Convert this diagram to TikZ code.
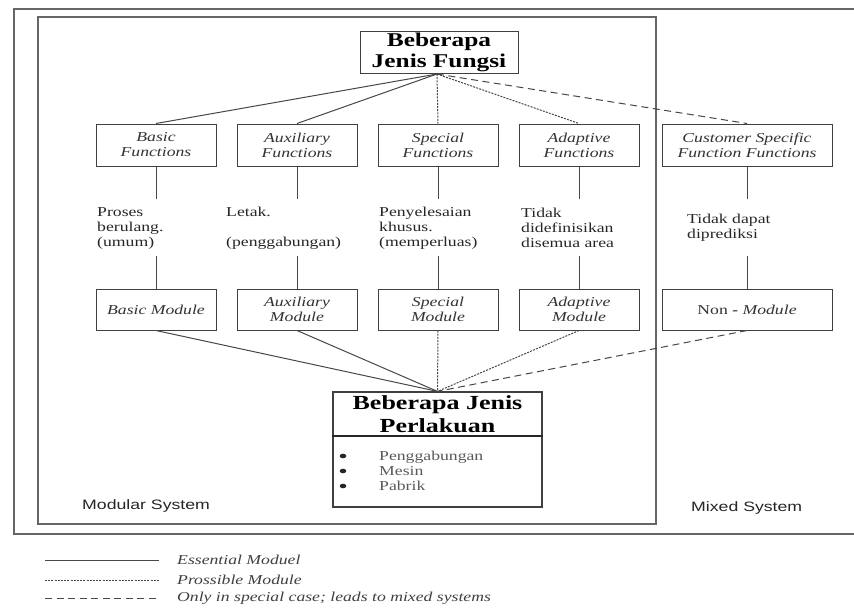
\documentclass[tikz,border=0pt]{standalone}
\usepackage{fontspec}
\setmainfont{Liberation Serif}[FakeStretch=1.3]
\newfontfamily\sansf{Liberation Sans}[FakeStretch=1.3]
\begin{document}
\begin{tikzpicture}[x=1pt,y=-1pt,
  box/.style={draw=black!75,line width=1pt,inner sep=0pt,align=center,minimum height=42pt,minimum width=120pt,font=\fontsize{13.6}{15}\selectfont\itshape,text=black!80},
  lbl/.style={anchor=west,inner sep=0pt,align=left,font=\fontsize{13.6}{15}\selectfont,text=black!85},
  essl/.style={draw=black!72,line width=1pt},
  possl/.style={draw=black!72,line width=1pt,dash pattern=on 2pt off 1.2pt},
  spcl/.style={draw=black!72,line width=1pt,dash pattern=on 7pt off 4.5pt},
  frame/.style={draw=black!60,line width=1.3pt},
  sysl/.style={anchor=west,inner sep=0pt,font=\sansf\fontsize{13.6}{15}\selectfont,text=black!85},
  legl/.style={anchor=west,inner sep=0pt,font=\fontsize{13.6}{15}\selectfont\itshape,text=black!75}
]
\useasboundingbox (0,0) rectangle (854,608);
\fill[white] (0,0) rectangle (854,608);

% frames
\draw[frame] (854,9) -- (14,9) -- (14,534) -- (854,534);
\draw[frame] (38,17) rectangle (656,524);

% top box
\node[box, minimum width=158pt, font=\fontsize{19.5}{21}\selectfont\bfseries, text=black] (top) at (439,52) {Beberapa\\Jenis Fungsi};

% function boxes
\node[box] (bf) at (156,145) {Basic\\Functions};
\node[box] (af) at (297,145) {Auxiliary\\Functions};
\node[box] (sf) at (438,145) {Special\\Functions};
\node[box] (df) at (579,145) {Adaptive\\Functions};
\node[box, minimum width=170pt] (cf) at (747,145) {Customer Specific\\Function Functions};

% module boxes
\node[box, minimum height=41pt] (bm) at (156,309.5) {Basic Module};
\node[box, minimum height=41pt] (am) at (297,309.5) {Auxiliary\\Module};
\node[box, minimum height=41pt] (sm) at (438,309.5) {Special\\Module};
\node[box, minimum height=41pt] (dm) at (579,309.5) {Adaptive\\Module};
\node[box, minimum height=41pt, minimum width=170pt] (nm) at (747,309.5) {{\upshape Non} \textbf{-} Module};

% middle labels
\node[lbl] (bt) at (97,228) {Proses\\berulang.\\(umum)};
\node[lbl] (at) at (226,228) {Letak.\\[15pt](penggabungan)};
\node[lbl] (st) at (379,228) {Penyelesaian\\khusus.\\(memperluas)};
\node[lbl] (dt) at (521,228) {Tidak\\didefinisikan\\disemua area};
\node[lbl] (ct) at (687,228) {Tidak dapat\\diprediksi};

% stub coordinates
\foreach \n/\x in {b/156,a/297,s/438,d/579,c/747}{
  \coordinate (\n1) at (\x,199);
  \coordinate (\n2) at (\x,256);
}
\draw[essl] (bf.south) -- (b1); \draw[essl] (b2) -- (bm.north);
\draw[essl] (af.south) -- (a1); \draw[essl] (a2) -- (am.north);
\draw[essl] (sf.south) -- (s1); \draw[essl] (s2) -- (sm.north);
\draw[essl] (df.south) -- (d1); \draw[essl] (d2) -- (dm.north);
\draw[essl] (cf.south) -- (c1); \draw[essl] (c2) -- (nm.north);

% perlakuan box
\node[draw=black!75,line width=1.2pt,minimum width=209pt,minimum height=115pt,inner sep=0pt] (per) at (437.5,449.5) {};
\draw[draw=black!85,line width=1.4pt] (per.west |- 0,436) -- (per.east |- 0,436);
\node[inner sep=0pt,align=center,font=\fontsize{20}{23}\selectfont\bfseries] (perh) at (437.5,414) {Beberapa Jenis\\Perlakuan};
\fill[black!85] (343,456) ellipse (3.3pt and 2.3pt);
\fill[black!85] (343,471) ellipse (3.3pt and 2.3pt);
\fill[black!85] (343,486) ellipse (3.3pt and 2.3pt);
\node[lbl,text=black!65] (plist) at (379,471) {Penggabungan\\Mesin\\Pabrik};

% top connectors
\coordinate (ta) at (437,74);
\draw[essl] (ta) -- (bf.north);
\draw[essl] (ta) -- (af.north);
\draw[possl] (ta) -- (sf.north);
\draw[possl] (ta) -- (df.north);
\draw[spcl] (ta) -- (cf.north);

% bottom connectors
\draw[essl] (bm.south) -- (per.north);
\draw[essl] (am.south) -- (per.north);
\draw[possl] (sm.south) -- (per.north);
\draw[possl] (dm.south) -- (per.north);
\draw[spcl] (nm.south) -- (per.north);

% system labels
\node[sysl] (mods) at (82,506) {Modular System};
\node[sysl] (mixs) at (691,508) {Mixed System};

% legend
\coordinate (l1a) at (45,560); \coordinate (l1b) at (159,560);
\coordinate (l2a) at (45,580); \coordinate (l2b) at (159,580);
\coordinate (l3a) at (45,598); \coordinate (l3b) at (159,598);
\draw[essl] (l1a) -- (l1b);
\draw[possl] (l2a) -- (l2b);
\draw[spcl] (l3a) -- (l3b);
\node[legl] (lt1) at (177,560) {Essential Moduel};
\node[legl] (lt2) at (177,580) {Prossible Module};
\node[legl] (lt3) at (177,598) {Only in special case; leads to mixed systems};
\end{tikzpicture}
\end{document}
